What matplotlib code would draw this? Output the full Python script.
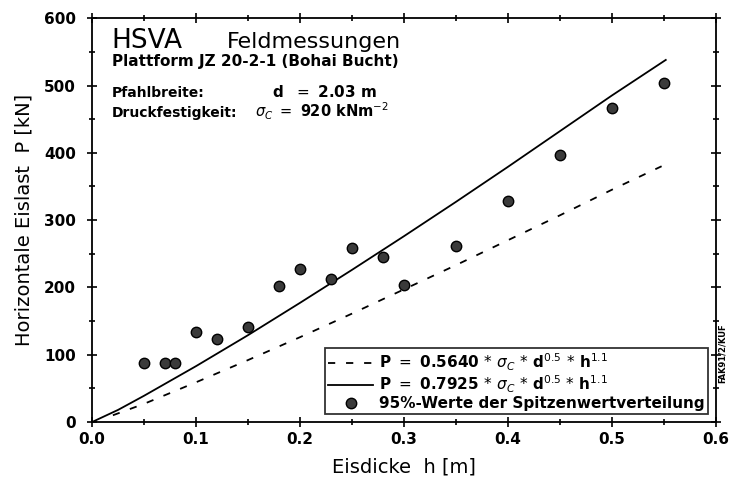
import matplotlib
matplotlib.use('Agg')
import matplotlib.pyplot as plt
from matplotlib.ticker import MultipleLocator

# measured peak values (95%-Werte)
h_meas = [0.05, 0.07, 0.08, 0.10, 0.12, 0.15, 0.18, 0.20, 0.23, 0.25, 0.28, 0.30,
          0.35, 0.40, 0.45, 0.50, 0.55]
p_meas = [87, 87, 87, 133, 123, 141, 202, 228, 212, 259, 245, 204,
          261, 329, 396, 467, 504]

# curves
h_solid = [0.0, 0.025, 0.05, 0.10, 0.15, 0.20, 0.25, 0.30, 0.35, 0.40, 0.45, 0.50, 0.552]
p_solid = [0, 18, 39, 83, 129, 177, 226, 276, 327, 379, 432, 485, 538]
h_dash = [0.02, 0.05, 0.10, 0.15, 0.20, 0.25, 0.30, 0.35, 0.40, 0.45, 0.50, 0.548]
p_dash = [10, 27, 59, 92, 126, 161, 197, 233, 270, 307, 345, 380]

lbl_dash = r'P $=$ 0.5640 $*$ $\sigma_C$ $*$ d$^{0.5}$ $*$ h$^{1.1}$'
lbl_solid = r'P $=$ 0.7925 $*$ $\sigma_C$ $*$ d$^{0.5}$ $*$ h$^{1.1}$'
lbl_pts = '95%-Werte der Spitzenwertverteilung'

plt.rcParams['mathtext.fontset'] = 'dejavusans'
fig = plt.figure(figsize=(7.31, 4.79), dpi=100)
ax = fig.add_axes([0.126, 0.119, 0.853, 0.843])

ax.plot(h_dash, p_dash, color='black', lw=1.3, linestyle=(0, (4, 6)), label=lbl_dash)
ax.plot(h_solid, p_solid, color='black', lw=1.3, label=lbl_solid)
ax.plot(h_meas, p_meas, 'o', color='#3a3a3a', mec='black', ms=7.5, label=lbl_pts)

ax.set_xlim(0, 0.6)
ax.set_ylim(0, 600)
ax.xaxis.set_major_locator(MultipleLocator(0.1))
ax.xaxis.set_minor_locator(MultipleLocator(0.05))
ax.yaxis.set_major_locator(MultipleLocator(100))
ax.yaxis.set_minor_locator(MultipleLocator(50))
ax.set_xticklabels(['%.1f' % v for v in ax.get_xticks()])
for s in ax.spines.values():
    s.set_linewidth(1.3)
ax.tick_params(which='both', direction='in', top=True, right=True, width=1.2)
ax.tick_params(axis='y', which='both', left=True, direction='inout')
ax.tick_params(axis='x', which='both', bottom=True, direction='inout')
ax.tick_params(which='major', length=7, labelsize=11)
ax.tick_params(which='minor', length=4)
ax.tick_params(axis='y', which='major', pad=8)
for t in ax.get_xticklabels() + ax.get_yticklabels():
    t.set_fontweight('bold')

ax.set_xlabel('Eisdicke  h [m]', fontsize=14, labelpad=8)
ax.set_ylabel('Horizontale Eislast  P [kN]', fontsize=14, labelpad=8)

leg = ax.legend(loc='lower right', bbox_to_anchor=(0.987, 0.02), fontsize=11,
                frameon=True, fancybox=False, edgecolor='black', handlelength=2.9,
                borderpad=0.2, labelspacing=0.05, handletextpad=0.4, borderaxespad=0)
leg.get_frame().set_linewidth(1.3)
for t in leg.get_texts():
    t.set_fontweight('bold')

# header text block
fig.text(0.153, 0.9, 'HSVA', fontsize=19)
fig.text(0.31, 0.9, 'Feldmessungen', fontsize=16)
fig.text(0.153, 0.862, 'Plattform JZ 20-2-1 (Bohai Bucht)', fontsize=11, fontweight='bold')
fig.text(0.153, 0.797, 'Pfahlbreite:', fontsize=10, fontweight='bold')
fig.text(0.372, 0.797, r'd  $=$ 2.03 m', fontsize=11, fontweight='bold')
fig.text(0.153, 0.755, 'Druckfestigkeit:', fontsize=10, fontweight='bold')
fig.text(0.349, 0.755, r'$\sigma_C$ $=$ 920 kNm$^{-2}$', fontsize=10.5, fontweight='bold')

fig.text(0.988, 0.205, 'FAK91/2/KUF', fontsize=6, fontweight='bold', rotation=90,
         ha='center')

fig.savefig('out.png', dpi=100)
